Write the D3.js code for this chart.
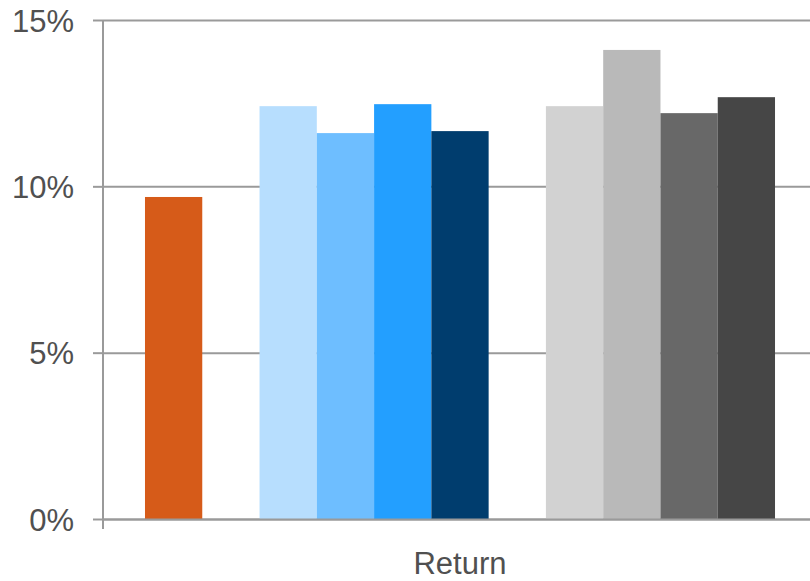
<!DOCTYPE html>
<html>
<head>
<meta charset="utf-8">
<script src="https://cdn.jsdelivr.net/npm/d3@7"></script>
<style>
  html, body { margin: 0; padding: 0; background: #fff; overflow: hidden; }
  svg { display: block; }
  text { font-family: "Liberation Sans", Arial, sans-serif; }
</style>
</head>
<body>
<svg id="chart" width="810" height="581"></svg>
<script>
// Categories along the x axis
const categories = ["Return"];

// One bar per series, grouped into three clusters
const seriesNames  = ["Benchmark", "Portfolio A", "Portfolio B", "Portfolio C", "Portfolio D",
                      "Peer A", "Peer B", "Peer C", "Peer D"];
const seriesGroups = [0, 1, 1, 1, 1, 2, 2, 2, 2];
const seriesValues = [9.68, 12.41, 11.60, 12.47, 11.66, 12.41, 14.10, 12.20, 12.68];
const seriesColors = ["#D65B19", "#B7DEFE", "#6EBEFF", "#239FFF", "#003D6E",
                      "#D2D2D2", "#B9B9B9", "#686868", "#464646"];

// Y axis ticks (percent)
const yTicks = [0, 5, 10, 15];

const svg = d3.select("#chart");
const margin = { left: 103, right: -7, top: 20, bottom: 62 };
const W = 810, H = 581;
const plotLeft = margin.left, plotRight = W - margin.right;
const plotTop = margin.top, plotBottom = H - margin.bottom;
const labelColor = "#505050";
const labelSize = "31px";

const y = d3.scaleLinear().domain([0, 15]).range([plotBottom, plotTop]);

const x0 = d3.scaleBand().domain(categories).range([plotLeft, plotRight]).padding(0);

// Slots inside a category: series bars with one empty slot between clusters
const slots = [];
seriesNames.forEach((n, i) => {
  if (i > 0 && seriesGroups[i] !== seriesGroups[i - 1]) slots.push("__gap" + i);
  slots.push(n);
});
const x1 = d3.scaleBand().domain(slots).range([0, x0.bandwidth()])
  .paddingInner(0).paddingOuter(0.733);

const gridColor = "#9a9a9a";

// Horizontal gridlines with tick stubs on the left
svg.append("g")
  .attr("transform", `translate(${plotLeft},0)`)
  .call(d3.axisLeft(y).tickValues(yTicks).tickSize(10).tickFormat(d => d + "%").tickPadding(19))
  .call(g => {
    g.select(".domain").remove();
    g.selectAll(".tick line").attr("stroke", gridColor).attr("stroke-width", 2);
    g.selectAll(".tick").append("line")
      .attr("x1", 0).attr("x2", plotRight - plotLeft)
      .attr("stroke", gridColor).attr("stroke-width", 2);
    g.selectAll(".tick text")
      .attr("fill", labelColor).style("font-size", labelSize)
      .attr("dy", "0.36em");
  });

// Bars
const rows = seriesNames.map((n, i) => ({ name: n, value: seriesValues[i], color: seriesColors[i] }));
svg.append("g")
  .selectAll("g")
  .data(categories)
  .join("g")
  .attr("transform", d => `translate(${x0(d)},0)`)
  .selectAll("rect")
  .data(rows)
  .join("rect")
  .attr("x", d => x1(d.name))
  .attr("width", x1.bandwidth())
  .attr("y", d => y(d.value))
  .attr("height", d => y(0) - y(d.value))
  .attr("fill", d => d.color);

// Y axis line
svg.append("line")
  .attr("x1", plotLeft).attr("x2", plotLeft)
  .attr("y1", plotTop).attr("y2", plotBottom + 10)
  .attr("stroke", gridColor).attr("stroke-width", 2);

// X axis baseline and category label
svg.append("g")
  .attr("transform", `translate(0,${plotBottom})`)
  .call(d3.axisBottom(x0).tickSize(0).tickPadding(33))
  .call(g => {
    g.select(".domain").attr("stroke", gridColor).attr("stroke-width", 2);
    g.selectAll(".tick text").attr("fill", labelColor).style("font-size", labelSize);
  });
</script>
</body>
</html>
